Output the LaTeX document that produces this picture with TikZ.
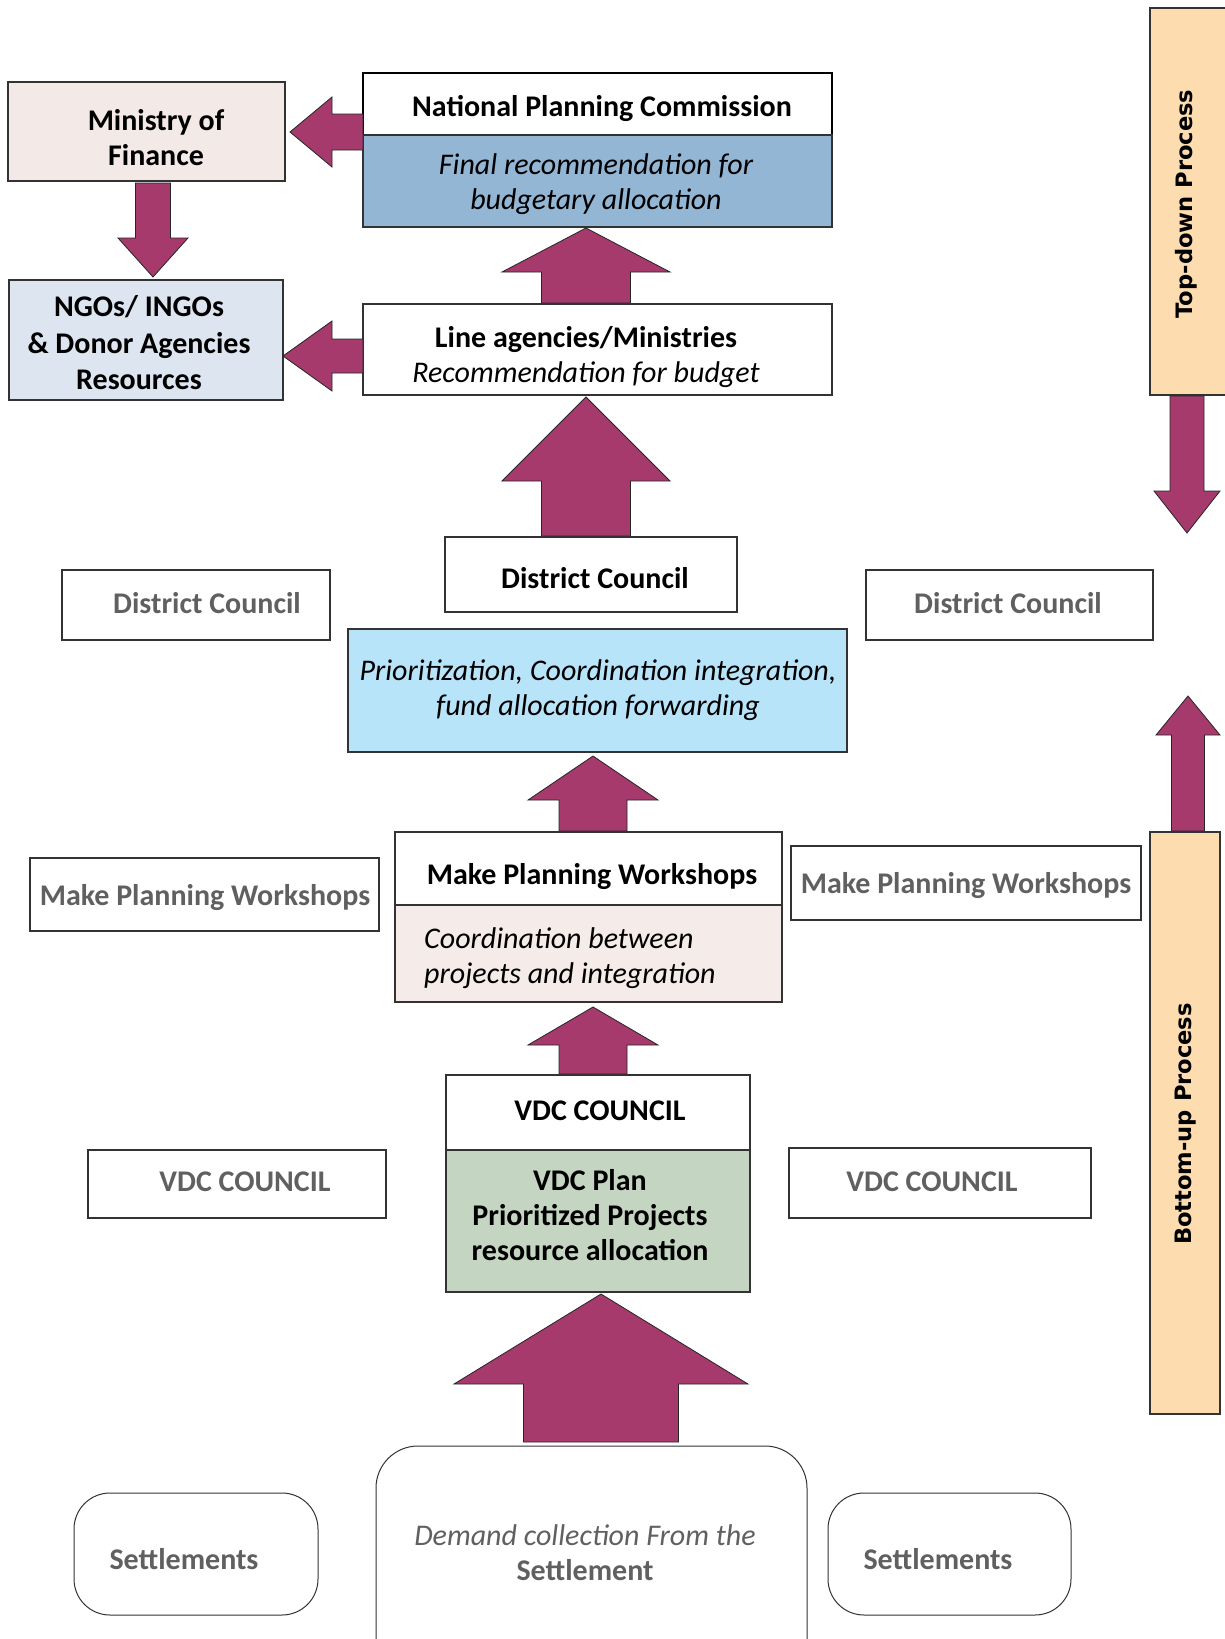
\documentclass[tikz,border=0pt]{standalone}
\usepackage{fontspec}
\setmainfont{Carlito}
\newfontfamily\sidefont{DejaVu Sans}
\usetikzlibrary{fit}
\definecolor{arrowc}{HTML}{A63A6C}
\definecolor{mofc}{HTML}{F3E9E7}
\definecolor{npcc}{HTML}{93B6D4}
\definecolor{ngoc}{HTML}{DCE5F0}
\definecolor{priorc}{HTML}{B8E4F9}
\definecolor{coordc}{HTML}{F5EBE8}
\definecolor{vdcc}{HTML}{C4D6C1}
\definecolor{barc}{HTML}{FDDCAF}
\definecolor{greyt}{HTML}{606060}
\newcommand\blockv[6]{% cx, tip y, head half, base y, shaft half, end y
  \draw[barrow] ({#1},{#2}) -- ({#1+#3},{#4}) -- ({#1+#5},{#4}) -- ({#1+#5},{#6}) -- ({#1-#5},{#6}) -- ({#1-#5},{#4}) -- ({#1-#3},{#4}) -- cycle;}
\newcommand\blockh[6]{% cy, tip x, head half, base x, shaft half, end x
  \draw[barrow] ({#2},{#1}) -- ({#4},{#1-#3}) -- ({#4},{#1-#5}) -- ({#6},{#1-#5}) -- ({#6},{#1+#5}) -- ({#4},{#1+#5}) -- ({#4},{#1+#3}) -- cycle;}
\begin{document}
\begin{tikzpicture}[x=1pt,y=-1pt,
  box/.style={draw=black!80, line width=1.2pt, inner sep=0pt},
  rbox/.style={box, rounded corners=36pt},
  barrow/.style={fill=arrowc, draw=black!85, line width=0.8pt},
  txt/.style={font=\fontsize{30}{35}\selectfont, align=center, inner sep=0pt},
  btxt/.style={txt, font=\fontsize{30}{35}\selectfont\bfseries},
  itxt/.style={txt, font=\fontsize{30}{35}\selectfont\itshape},
  gtxt/.style={btxt, text=greyt},
  sidetxt/.style={font=\sidefont\fontsize{22.6}{28}\selectfont\bfseries, rotate=90, inner sep=0pt}]
\useasboundingbox (0,0) rectangle (1225,1639);
\fill[white] (0,0) rectangle (1225,1639);

% boxes
\node[box, fill=mofc, fit={(8,82) (285,181)}] (mof) {};
\node[box, line width=2.6pt, draw=black, fit={(363,73) (832,135)}] (npc) {};
\node[box, fill=npcc, fit={(363,135) (832,227)}] (npcb) {};
\node[box, fill=ngoc, fit={(9,280) (283,400)}] (ngo) {};
\node[box, fit={(363,304) (832,395)}] (la) {};
\node[box, fill=barc, fit={(1150,8) (1228,395)}] (topbar) {};
\node[box, fit={(445,537) (737,612)}] (dc) {};
\node[box, fit={(62,570) (330,640)}] (dcl) {};
\node[box, fit={(866,570) (1153,640)}] (dcr) {};
\node[box, fill=priorc, fit={(348,629) (847,752)}] (prior) {};
\node[box, fit={(395,832) (782,905)}] (mpw) {};
\node[box, fill=coordc, fit={(395,905) (782,1002)}] (coord) {};
\node[box, fit={(30,858) (379,931)}] (mpwl) {};
\node[box, fit={(791,846) (1141,920)}] (mpwr) {};
\node[box, fill=barc, fit={(1150,832) (1220,1414)}] (botbar) {};
\node[box, fit={(446,1075) (750,1150)}] (vdc) {};
\node[box, fill=vdcc, fit={(446,1150) (750,1292)}] (vdcp) {};
\node[box, fit={(88,1150) (386,1218)}] (vdcl) {};
\node[box, fit={(789,1148) (1091,1218)}] (vdcr) {};
\node[rbox, line width=1pt, rounded corners=42pt, fit={(376,1446) (807,1700)}] (dem) {};
\node[rbox, line width=1pt, fit={(74,1493) (318,1615)}] (setl) {};
\node[rbox, line width=1pt, fit={(828,1493) (1071,1615)}] (setr) {};

% block arrows
\blockh{132}{290}{35}{332}{18}{363}
\blockv{153}{277}{35}{238}{17.5}{183}
\blockh{356}{283}{35}{332}{17}{363}
\blockv{586}{228}{84}{272}{44.5}{303}
\blockv{586}{397}{84}{481}{44.5}{536}
\blockv{1187}{533}{33}{491}{17}{396}
\blockv{1188}{696}{32}{735}{16.5}{831}
\blockv{593}{756}{65}{800}{34}{831}
\blockv{593}{1007}{65}{1045}{34}{1074}
\blockv{601}{1294}{147}{1384}{77.5}{1442}

% texts
\node[btxt] (tmof) at (156,138) {Ministry of\\Finance};
\node[btxt] (tnpc) at (602,108) {National Planning Commission};
\node[itxt] (tnpcb) at (596,184) {Final recommendation for\\budgetary allocation};
\node[btxt, font=\fontsize{30}{36.5}\selectfont\bfseries] (tngo) at (139,343) {NGOs/ INGOs\\\& Donor Agencies\\Resources};
\node[txt] (tla) at (586,357) {\textbf{Line agencies/Ministries}\\\textit{Recommendation for budget}};
\node[sidetxt] (ttop) at (1186,204) {Top-down Process};
\node[btxt] (tdc) at (595,578) {District Council};
\node[gtxt] (tdcl) at (207,603) {District Council};
\node[gtxt] (tdcr) at (1008,603) {District Council};
\node[itxt] (tprior) at (598,690) {Prioritization, Coordination integration,\\fund allocation forwarding};
\node[btxt] (tmpw) at (592,877) {Make Planning Workshops};
\node[gtxt] (tmpwl) at (205,898) {Make Planning Workshops};
\node[gtxt] (tmpwr) at (966,886) {Make Planning Workshops};
\node[itxt, align=left, anchor=west] (tcoord) at (424,958) {Coordination between\\projects and integration};
\node[btxt] (tvdc) at (600,1111) {VDC COUNCIL};
\node[gtxt] (tvdcl) at (245,1182) {VDC COUNCIL};
\node[gtxt] (tvdcr) at (932,1182) {VDC COUNCIL};
\node[btxt] (tvdcp) at (590,1215) {VDC Plan\\Prioritized Projects\\resource allocation};
\node[sidetxt] (tbot) at (1186,1124) {Bottom-up Process};
\node[txt, text=greyt] (tdem) at (585,1553) {\textit{Demand collection From the}\\\textbf{Settlement}};
\node[gtxt] (tsetl) at (184,1559) {Settlements};
\node[gtxt] (tsetr) at (938,1559) {Settlements};
\end{tikzpicture}
\end{document}
